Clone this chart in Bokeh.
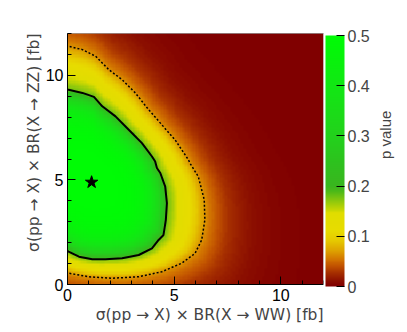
import numpy as np
from bokeh.plotting import figure
from bokeh.models import (LinearColorMapper, ColorBar, FixedTicker, Range1d, Title, LinearAxis)
from bokeh.embed import file_html
from bokeh.resources import INLINE

# ---------------- data ----------------
x_ticks = [0, 5, 10]
y_ticks = [0, 5, 10]
minor_ticks = list(range(0, 13))
cbar_ticks = [0, 0.1, 0.2, 0.3, 0.4, 0.5]

best_fit_x = [1.13]
best_fit_y = [4.89]

# p-value at the best fit and (by colour) on the two contours
p_peak = 0.5
p_solid = 0.18
p_dotted = 0.065

# solid contour (points at x<0 lie outside the frame and only close the loop)
solid_x = [-1.8, -0.6, 0.05, 0.70, 1.24, 1.63, 2.25, 2.87, 3.49, 3.96, 4.11, 4.19, 4.35, 4.58, 4.66,
           4.61, 4.50, 4.27, 3.96, 3.34, 2.56, 1.78, 1.16, 0.54, 0.05, -0.6, -1.8, -2.2]
solid_y = [8.2, 9.35, 9.31, 9.16, 8.97, 8.52, 8.04, 7.40, 6.76, 6.12, 5.88, 5.57, 5.33, 4.68, 3.89,
           3.09, 2.37, 2.13, 1.73, 1.41, 1.25, 1.21, 1.21, 1.33, 1.57, 1.95, 3.0, 5.0]

# dotted contour
dotted_x = [-3.0, -0.6, 0.05, 0.70, 1.32, 1.94, 2.56, 3.18, 3.80, 4.42, 5.04, 5.67, 5.74, 6.13, 6.41,
            6.44, 6.29, 5.98, 5.36, 4.42, 3.34, 2.10, 1.01, 0.05, -0.6, -2.5, -3.4]
dotted_y = [9.6, 11.5, 11.39, 11.23, 10.91, 10.27, 9.79, 9.16, 8.36, 7.64, 6.92, 5.96, 5.80, 5.16, 4.05,
            3.09, 2.13, 1.49, 1.02, 0.61, 0.37, 0.30, 0.37, 0.54, 0.7, 1.6, 5.0]

# colour-bar stops (p value, r, g, b)
stop_p = [0.0, 0.01, 0.025, 0.04, 0.055, 0.07, 0.09, 0.11, 0.145, 0.165, 0.19, 0.20, 0.25, 0.30, 0.40, 0.50]
stop_r = [128, 140, 165, 195, 212, 222, 230, 232, 225, 160, 75, 58, 45, 35, 18, 0]
stop_g = [0, 15, 45, 85, 120, 160, 200, 220, 222, 205, 185, 182, 195, 210, 232, 252]
stop_b = [0, 0, 0, 0, 0, 0, 0, 0, 0, 10, 25, 30, 30, 28, 20, 5]

# ---------------- palette ----------------
pv = np.linspace(0, 0.5, 256)
palette = ["#%02x%02x%02x" % (int(np.interp(v, stop_p, stop_r)),
                              int(np.interp(v, stop_p, stop_g)),
                              int(np.interp(v, stop_p, stop_b))) for v in pv]
mapper = LinearColorMapper(palette=palette, low=0, high=0.5)

# ---------------- p-value map derived from the contours ----------------
cx, cy = best_fit_x[0], best_fit_y[0]

def polar(xs, ys):
    dx = np.array(xs) - cx
    dy = np.array(ys) - cy
    return np.arctan2(dy, dx), np.hypot(dx, dy)

a1, r1s = polar(solid_x, solid_y)
a2, r2s = polar(dotted_x, dotted_y)
o1 = np.argsort(a1)
o2 = np.argsort(a2)

n = 96
xc = (np.arange(n) + 0.5) * 12.0 / n
yc = (np.arange(n) + 0.5) * 12.0 / n
X, Y = np.meshgrid(xc, yc)
th = np.arctan2(Y - cy, X - cx)
r = np.hypot(X - cx, Y - cy)
R1 = np.interp(th, a1[o1], r1s[o1], period=2 * np.pi)
R2 = np.interp(th, a2[o2], r2s[o2], period=2 * np.pi)

field = np.empty_like(r)
inner = r < R1
mid = (r >= R1) & (r < R2)
outer = r >= R2
field[inner] = p_peak - (p_peak - p_solid) * (r[inner] / R1[inner]) ** 5
t = (r[mid] - R1[mid]) / (R2[mid] - R1[mid])
field[mid] = p_solid + (p_dotted - p_solid) * t
field[outer] = p_dotted * np.exp(-(r[outer] / R2[outer] - 1.0) / 0.24)

# ---------------- figure ----------------
FONT = "Liberation Sans"
TFONT = "DejaVu Sans"
p = figure(width=405, height=330, x_range=Range1d(0, 12), y_range=Range1d(0, 12),
           output_backend="svg", toolbar_location=None,
           min_border_left=67, min_border_right=80, min_border_top=33, min_border_bottom=46)
p.grid.visible = False
p.outline_line_color = "#999999"
p.background_fill_color = "white"

p.image(image=[field], x=0, y=0, dw=12, dh=12, color_mapper=mapper)

p.line(solid_x + solid_x[:1], solid_y + solid_y[:1], line_color="black", line_width=2)
p.line(dotted_x + dotted_x[:1], dotted_y + dotted_y[:1], line_color="black", line_width=1.5,
       line_dash="2 2")
p.scatter(best_fit_x, best_fit_y, marker="star", size=13, color="black")

for ax, ticks in ((p.xaxis[0], x_ticks), (p.yaxis[0], y_ticks)):
    ax.ticker = FixedTicker(ticks=ticks, minor_ticks=minor_ticks)
    ax.major_tick_in = 8
    ax.major_tick_out = 0
    ax.minor_tick_in = 4
    ax.minor_tick_out = 0
    ax.axis_line_color = "black"
    ax.major_tick_line_color = "black"
    ax.minor_tick_line_color = "black"
    ax.major_label_text_font = FONT
    ax.major_label_text_font_size = "16px"
    ax.major_label_text_color = "black"
    ax.major_label_standoff = 4

cbar = ColorBar(color_mapper=mapper, ticker=FixedTicker(ticks=cbar_ticks), width=19, height=251,
                margin=0, padding=2, location="top_left", label_standoff=3,
                major_tick_in=8, major_tick_out=0, major_tick_line_color="black",
                minor_tick_line_color=None, bar_line_color=None, border_line_color=None,
                major_label_text_font=FONT, major_label_text_font_size="16px",
                major_label_overrides={0: "0"})
p.add_layout(cbar, "right")

# "p value" title: an empty right axis spanning the top of the frame
zaxis = LinearAxis(ticker=FixedTicker(ticks=[]), bounds=(9.5, 12), axis_line_color=None,
                   major_tick_line_color=None, minor_tick_line_color=None,
                   axis_label="p value", axis_label_orientation=np.pi / 2,
                   axis_label_standoff=11, axis_label_text_font=FONT,
                   axis_label_text_font_size="15px", axis_label_text_font_style="normal",
                   major_label_text_font_size="0px")
p.add_layout(zaxis, "right")

p.add_layout(Title(text="σ(pp → X) × BR(X → WW) [fb]", align="right", standoff=0,
                   text_font=TFONT, text_font_size="15.5px", text_font_style="normal"), "below")
p.add_layout(Title(text="σ(pp → X) × BR(X → ZZ) [fb]", align="right", standoff=0,
                   text_font=TFONT, text_font_size="15.5px", text_font_style="normal"), "left")

open("out.html", "w").write(file_html(p, INLINE))
